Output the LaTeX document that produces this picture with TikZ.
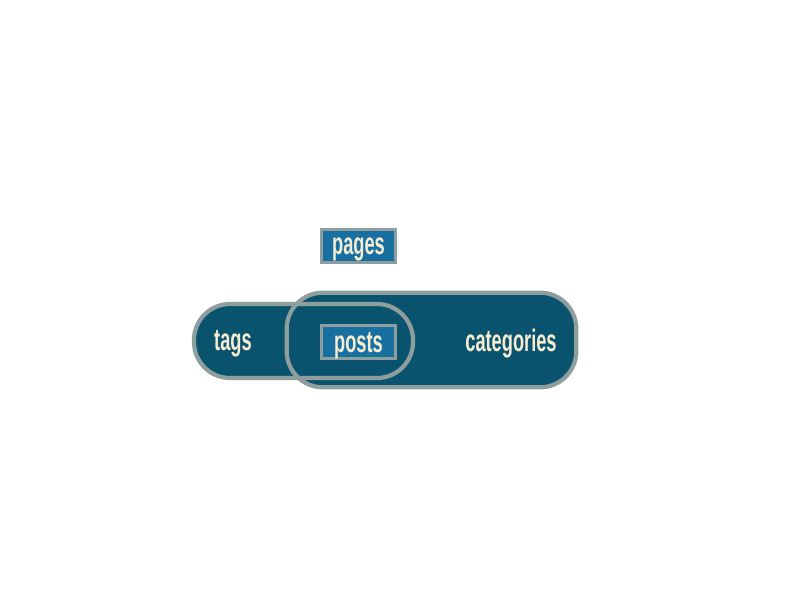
\documentclass[tikz,border=0pt]{standalone}
\usepackage{fontspec}
\setmainfont[FakeStretch=0.59]{Liberation Sans}
\usetikzlibrary{positioning}
\definecolor{darkteal}{RGB}{10,83,110}
\definecolor{boxblue}{RGB}{24,112,160}
\definecolor{edgegray}{RGB}{142,158,158}
\definecolor{cream}{RGB}{245,236,210}
\tikzset{
    pill_fill/.style={
        rectangle, rounded corners=0.9cm, fill=darkteal, inner sep=0pt
    },
    pill_line/.style={
        draw=edgegray, line width=3pt, rounded corners=0.9cm
    },
    box_blue/.style={
        rectangle, fill=boxblue, draw=edgegray, line width=2.2pt,
        minimum width=1.85cm, minimum height=0.825cm, inner sep=0pt,
        text depth=0pt, font=\bfseries\fontsize{22}{24}\selectfont, text=cream
    },
    lbl/.style={
        font=\bfseries\fontsize{22}{24}\selectfont, text=cream
    }
}
\begin{document}
\begin{tikzpicture}
    \useasboundingbox (0,0) rectangle (20,15);

    \node[pill_fill, minimum width=7.225cm, minimum height=2.35cm] (categories) at (10.7875, 6.5) {};
    \node[pill_fill, pill_line, minimum width=5.475cm, minimum height=1.85cm] (tags) at (7.5875, 6.475) {};
    \draw[pill_line] (categories.south west) rectangle (categories.north east);

    \node[lbl] (tags_lbl) at (5.825, 6.4) {tags};
    \node[lbl] (categories_lbl) at (12.775, 6.4) {categories};

    \node[box_blue] (posts) at (8.9625, 6.45) {posts};
    \node[box_blue] (pages) at (8.9625, 8.85) {pages};

\end{tikzpicture}
\end{document}
